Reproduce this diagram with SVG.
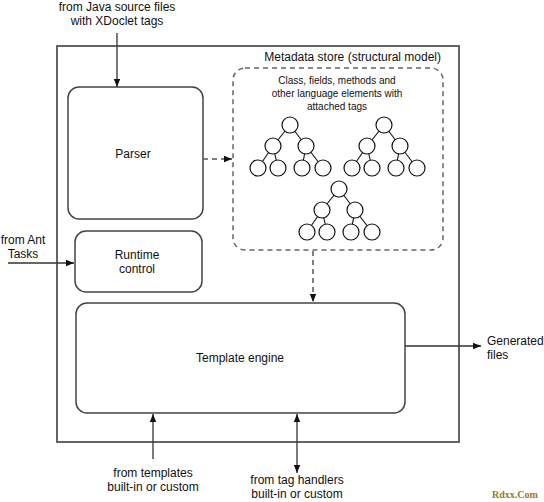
<svg xmlns="http://www.w3.org/2000/svg" width="544" height="502" viewBox="0 0 544 502">
<style>
  text { font-family: "Liberation Sans", Arial, sans-serif; font-size: 12px; fill: #111; }
  .c { text-anchor: middle; }
  .small { font-size: 10px; }
  .box { fill: #fff; stroke: #444; stroke-width: 1.5; }
  .outer { fill: #fff; stroke: #555; stroke-width: 1.8; }
  .dash { fill: none; stroke: #666; stroke-width: 1.5; stroke-dasharray: 5 4; }
  .line { fill: none; stroke: #333; stroke-width: 1.3; }
  .dline { fill: none; stroke: #555; stroke-width: 1.5; stroke-dasharray: 5 4; }
  .tree circle { fill: #fff; stroke: #111; stroke-width: 1.2; }
  .tree line { stroke: #111; stroke-width: 1.1; }
  .wm { font-family: "Liberation Serif", serif; font-weight: bold; font-size: 10px; fill: #9a7a1e; }
</style>
<defs>
  <marker id="ah" viewBox="0 0 10 10" refX="10" refY="5" markerWidth="8" markerHeight="8" markerUnits="userSpaceOnUse" orient="auto-start-reverse">
    <path d="M0,1 L10,5 L0,9 Z" fill="#111"/>
  </marker>
  <g id="tree" class="tree">
    <line x1="0" y1="0" x2="-17" y2="21"/>
    <line x1="0" y1="0" x2="16" y2="21"/>
    <line x1="-17" y1="21" x2="-32" y2="43"/>
    <line x1="-17" y1="21" x2="-12" y2="43"/>
    <line x1="16" y1="21" x2="12" y2="43"/>
    <line x1="16" y1="21" x2="33" y2="43"/>
    <circle cx="0" cy="0" r="8"/>
    <circle cx="-17" cy="21" r="8"/>
    <circle cx="16" cy="21" r="8"/>
    <circle cx="-32" cy="43" r="8"/>
    <circle cx="-12" cy="43" r="8"/>
    <circle cx="12" cy="43" r="8"/>
    <circle cx="33" cy="43" r="8"/>
  </g>
</defs>

<g id="metadata-store">
  <rect class="outer" x="57" y="46" width="402" height="396"/>
  <text x="441" y="61" text-anchor="end">Metadata store (structural model)</text>
</g>

<g id="parser">
  <rect class="box" x="68" y="87" width="135" height="132" rx="11"/>
  <text class="c" x="133" y="158">Parser</text>
</g>

<g id="runtime-control">
  <rect class="box" x="75" y="231" width="127" height="61" rx="11"/>
  <text class="c" x="137" y="259">Runtime</text>
  <text class="c" x="137" y="273">control</text>
</g>

<g id="template-engine">
  <rect class="box" x="76" y="303" width="329" height="110" rx="11"/>
  <text class="c" x="240" y="362">Template engine</text>
</g>

<g id="model">
  <rect class="dash" x="233" y="68" width="210" height="182" rx="12"/>
  <text class="c small" x="337" y="84">Class, fields, methods and</text>
  <text class="c small" x="337" y="97">other language elements with</text>
  <text class="c small" x="337" y="110">attached tags</text>
  <use href="#tree" x="290" y="125"/>
  <use href="#tree" x="384" y="125"/>
  <use href="#tree" x="339" y="189"/>
</g>

<g id="labels">
  <text class="c" x="117" y="11">from Java source files</text>
  <text class="c" x="117" y="25">with XDoclet tags</text>
  <text class="c" x="23" y="244">from Ant</text>
  <text class="c" x="23" y="258">Tasks</text>
  <text x="487" y="345">Generated</text>
  <text x="487" y="359">files</text>
  <text class="c" x="153" y="477">from templates</text>
  <text class="c" x="153" y="491">built-in or custom</text>
  <text class="c" x="297" y="484">from tag handlers</text>
  <text class="c" x="297" y="498">built-in or custom</text>
  <text class="wm" x="492" y="498">Rdxx.Com</text>
</g>

<g id="connectors">
  <line class="line" x1="117" y1="33" x2="117" y2="87" marker-end="url(#ah)"/>
  <line class="dline" x1="203" y1="159" x2="232" y2="159" marker-end="url(#ah)"/>
  <line class="line" x1="8" y1="263" x2="74" y2="263" marker-end="url(#ah)"/>
  <line class="dline" x1="313" y1="251" x2="313" y2="302" marker-end="url(#ah)"/>
  <line class="line" x1="405" y1="346" x2="481" y2="346" marker-end="url(#ah)"/>
  <line class="line" x1="153" y1="459" x2="153" y2="414" marker-end="url(#ah)"/>
  <line class="line" x1="297" y1="414" x2="297" y2="473" marker-start="url(#ah)" marker-end="url(#ah)"/>
</g>
</svg>
